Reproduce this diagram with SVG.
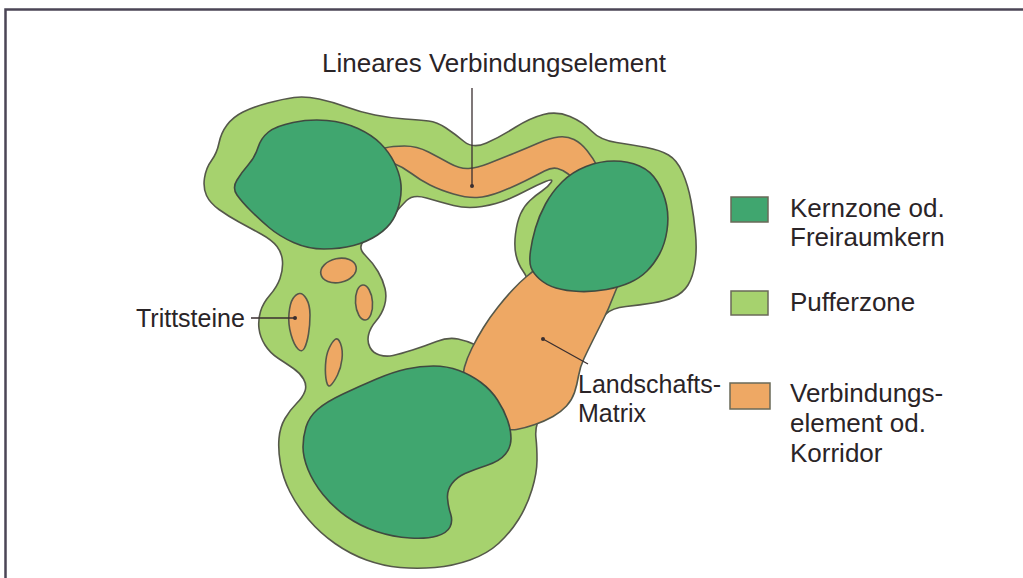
<svg xmlns="http://www.w3.org/2000/svg" width="1023" height="578" viewBox="0 0 1023 578">
<style>
.puf{fill:#a6d26e;stroke:#55584a;stroke-width:1.6;stroke-linejoin:round}
.hole{fill:#ffffff;stroke:#55584a;stroke-width:1.6;stroke-linejoin:round}
.cor{fill:#eea864;stroke:#55584a;stroke-width:1.6;stroke-linejoin:round}
.core{fill:#40a66f;stroke:#3f4a40;stroke-width:1.6;stroke-linejoin:round}
.lbl{font-family:"Liberation Sans",Arial,sans-serif;font-size:25px;fill:#2a2427}
.big{font-size:26px}
.lead{stroke:#3a2f30;stroke-width:1.3;fill:none}
.dot{fill:#3a2f30}
.frame{stroke:#4b4556;stroke-width:2.5;fill:none}
</style>
<rect width="1023" height="578" fill="#ffffff"/>
<path class="frame" d="M5.5,578 L5.5,9.5 L1023,9.5"/>

<g id="pufferzone">
<path class="puf" d="M 206.5,195.5 Q 203,188 204.5,178 Q 206,168 211.5,160.5 Q 217,153 219,143 Q 221,133 227,125 Q 233,117 243,112 Q 253,107 268,103 Q 283,99 294,97.5 Q 305,96 319,99 Q 333,102 346.5,107 Q 360,112 375,115 Q 390,118 405,119 Q 420,120 428.5,121 Q 437,122 446,128 Q 455,134 464,141.5 Q 473,149 486.5,143 Q 500,137 515,127.5 Q 530,118 543.5,114.5 Q 557,111 570,116.5 Q 583,122 591.5,131 Q 600,140 616.5,142.5 Q 633,145 646.5,147.5 Q 660,150 668.5,155 Q 677,160 682.5,172.5 Q 688,185 691,201 Q 694,217 695.5,233.5 Q 697,250 695,263.5 Q 693,277 688,285 Q 683,293 674,297 Q 665,301 652.5,303 Q 640,305 626,306.5 Q 612,308 606,314 Q 600,320 585,345 Q 570,370 555,392.5 Q 540,415 537.5,422.5 Q 535,430 536,438.5 Q 537,447 537,460 Q 537,473 532,489.5 Q 527,506 518.5,519.5 Q 510,533 498.5,543.5 Q 487,554 470,560 Q 453,566 435,567.5 Q 417,569 400,567.5 Q 383,566 366.5,560 Q 350,554 335,543.5 Q 320,533 308.5,519.5 Q 297,506 290,492 Q 283,478 280.5,464 Q 278,450 279,438.5 Q 280,427 285,418.5 Q 290,410 296.5,403.5 Q 303,397 305,391 Q 307,385 303.5,379 Q 300,373 293.5,368.5 Q 287,364 278.5,358.5 Q 270,353 265,345 Q 260,337 259,328.5 Q 258,320 260.5,311.5 Q 263,303 270,295 Q 277,287 280,278.5 Q 283,270 282.5,261.5 Q 282,253 277,246.5 Q 272,240 261,234 Q 250,228 239,222 Q 228,216 219,209.5 Q 210,203 206.5,195.5 Z"/>
</g>

<g id="landscape-matrix-gap">
<path class="hole" d="M 365,255 Q 357,247 364.5,240.5 Q 372,234 380,228 Q 388,222 394,214.5 Q 400,207 406.5,200.5 Q 413,194 426.5,198 Q 440,202 453.5,205.5 Q 467,209 482,206.5 Q 497,204 507.5,199.5 Q 518,195 527.5,190 Q 537,185 545.5,181.5 Q 554,178 551,182.5 Q 548,187 542,191 Q 536,195 530,200.5 Q 524,206 520.5,214 Q 517,222 515.5,234 Q 514,246 516,255 Q 518,264 523,271 Q 528,278 528,285 Q 528,292 516.5,305 Q 505,318 495.5,334 Q 486,350 477,345.5 Q 468,341 458,339 Q 448,337 436.5,341.5 Q 425,346 412.5,350 Q 400,354 393,355.5 Q 386,357 379.5,355 Q 373,353 370,347.5 Q 367,342 368.5,335 Q 370,328 376,321 Q 382,314 384.5,305.5 Q 387,297 385,288.5 Q 383,280 378,271.5 Q 373,263 365,255 Z"/>
</g>

<g id="korridor">
<path class="cor" d="M 538.5,267 Q 545,262 585,267 Q 625,272 620.5,280.5 Q 616,289 612.5,298.5 Q 609,308 603.5,319 Q 598,330 593,340 Q 588,350 584,358.5 Q 580,367 578.5,376 Q 577,385 574.5,392.5 Q 572,400 566.5,406 Q 561,412 553,416.5 Q 545,421 535,424.5 Q 525,428 516.5,429.5 Q 508,431 499,425.5 Q 490,420 480,410 Q 470,400 466,388 Q 462,376 464.5,367 Q 467,358 472,348 Q 477,338 483.5,327.5 Q 490,317 498,307 Q 506,297 513,289.5 Q 520,282 526,277 Q 532,272 538.5,267 Z"/>
</g>

<g id="lineares-verbindungselement">
<path class="cor" d="M 381.5,155 Q 378,150 385,148 Q 392,146 404.5,146 Q 417,146 428.5,152 Q 440,158 450,163.5 Q 460,169 468.5,168.5 Q 477,168 488.5,163.5 Q 500,159 513.5,153.5 Q 527,148 538.5,143 Q 550,138 558.5,137 Q 567,136 574,139.5 Q 581,143 587,150.5 Q 593,158 597.5,166.5 Q 602,175 591,180 Q 580,185 576,181 Q 572,177 567.5,173.5 Q 563,170 557.5,168.5 Q 552,167 544.5,171 Q 537,175 525,181 Q 513,187 500,192 Q 487,197 477,197.5 Q 467,198 453.5,194 Q 440,190 430,185 Q 420,180 411.5,173.5 Q 403,167 394,163.5 Q 385,160 381.5,155 Z"/>
</g>

<g id="kern-nw">
<path class="core" d="M 237,195 Q 232,188 237,180 Q 242,172 248.5,164.5 Q 255,157 258,147.5 Q 261,138 268.5,132 Q 276,126 293,122.5 Q 310,119 327,120.5 Q 344,122 358,128.5 Q 372,135 380.5,143.5 Q 389,152 394,162 Q 399,172 400.5,181 Q 402,190 400,200.5 Q 398,211 393,219.5 Q 388,228 377.5,235 Q 367,242 353.5,245.5 Q 340,249 324,249 Q 308,249 293.5,242.5 Q 279,236 269,227.5 Q 259,219 250.5,210.5 Q 242,202 237,195 Z"/>
</g>

<g id="kern-ne">
<path class="core" d="M 531,267.5 Q 529,262 530.5,251 Q 532,240 535.5,228 Q 539,216 545.5,204 Q 552,192 562,182 Q 572,172 586,166.5 Q 600,161 614,161 Q 628,161 639.5,166 Q 651,171 657.5,182 Q 664,193 666.5,205 Q 669,217 667,230.5 Q 665,244 659.5,254 Q 654,264 647,271 Q 640,278 630,282.5 Q 620,287 606.5,289.5 Q 593,292 579.5,291.5 Q 566,291 556,288 Q 546,285 539.5,279 Q 533,273 531,267.5 Z"/>
</g>

<g id="kern-s">
<path class="core" d="M 303,447 Q 303,437 306,427 Q 309,417 317.5,409.5 Q 326,402 343,394 Q 360,386 376.5,379 Q 393,372 406.5,369 Q 420,366 433.5,366 Q 447,366 459,370.5 Q 471,375 481,382.5 Q 491,390 497.5,400 Q 504,410 507.5,420 Q 511,430 511,438.5 Q 511,447 505.5,454 Q 500,461 486.5,465.5 Q 473,470 465,473.5 Q 457,477 452,483.5 Q 447,490 447.5,498 Q 448,506 450.5,513.5 Q 453,521 450,527 Q 447,533 437,536 Q 427,539 410,538 Q 393,537 376.5,531.5 Q 360,526 346.5,516.5 Q 333,507 323,494.5 Q 313,482 308,469.5 Q 303,457 303,447 Z"/>
</g>

<g id="trittsteine">
<ellipse class="cor" cx="338.5" cy="270.5" rx="18" ry="12" transform="rotate(-12 338.5 270.5)"/>
<ellipse class="cor" cx="364" cy="302.5" rx="8.5" ry="17.5" transform="rotate(-4 364 302.5)"/>
<path class="cor" d="M 299.5,293.5 Q 303,293 306.5,299 Q 310,305 310,315 Q 310,325 308.5,334 Q 307,343 304.5,348 Q 302,353 298,349 Q 294,345 291,334.5 Q 288,324 289,313.5 Q 290,303 293,298.5 Q 296,294 299.5,293.5 Z"/>
<path class="cor" d="M 335,339.5 Q 338,337 340.5,343.5 Q 343,350 342,359 Q 341,368 337.5,375 Q 334,382 331,385 Q 328,388 326.5,381.5 Q 325,375 325.5,365 Q 326,355 329,348.5 Q 332,342 335,339.5 Z"/>
</g>

<g id="connectors">
<line class="lead" x1="472" y1="88" x2="472" y2="186"/>
<circle class="dot" cx="472" cy="186" r="2"/>
<line class="lead" x1="251" y1="318" x2="295" y2="318"/>
<circle class="dot" cx="295" cy="318" r="2"/>
<line class="lead" x1="543" y1="339" x2="588" y2="364"/>
<circle class="dot" cx="543" cy="339" r="2"/>
</g>

<g id="labels">
<text class="lbl big" x="322" y="72">Lineares Verbindungselement</text>
<text class="lbl" x="136" y="327">Trittsteine</text>
<text class="lbl" x="578" y="393">Landschafts-</text>
<text class="lbl" x="578" y="422">Matrix</text>
</g>

<g id="legend-kern">
<rect x="731" y="197" width="37" height="25" fill="#40a66f" stroke="#6a6a58" stroke-width="1.5"/>
<text class="lbl big" x="790" y="217">Kernzone od.</text>
<text class="lbl big" x="790" y="246">Freiraumkern</text>
</g>
<g id="legend-puffer">
<rect x="731" y="291" width="37" height="24" fill="#a6d26e" stroke="#6a6a58" stroke-width="1.5"/>
<text class="lbl big" x="790" y="311">Pufferzone</text>
</g>
<g id="legend-korridor">
<rect x="730" y="383" width="40" height="26" fill="#eea864" stroke="#6a6a58" stroke-width="1.5"/>
<text class="lbl big" x="790" y="402">Verbindungs-</text>
<text class="lbl big" x="790" y="432">element od.</text>
<text class="lbl big" x="790" y="462">Korridor</text>
</g>
</svg>
